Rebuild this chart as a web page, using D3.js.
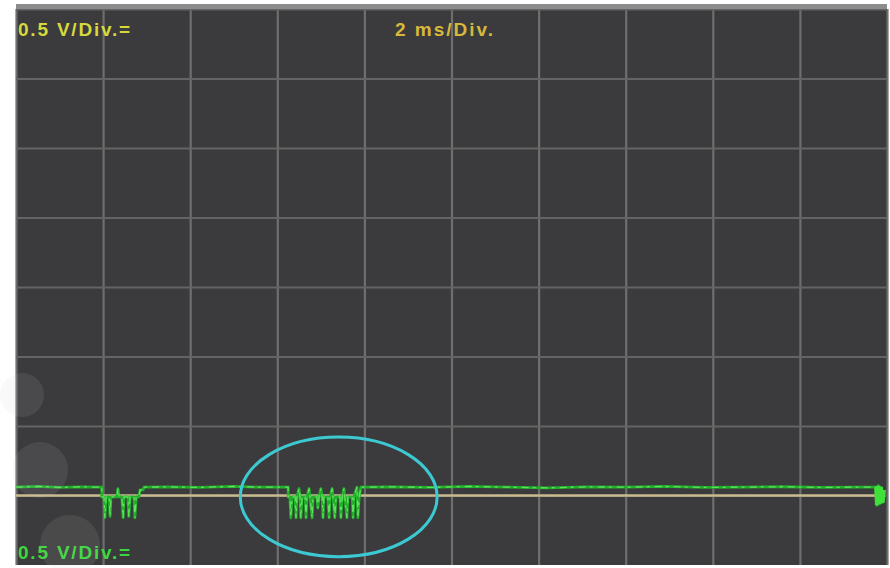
<!DOCTYPE html>
<html>
<head>
<meta charset="utf-8">
<script src="https://cdn.jsdelivr.net/npm/d3@7"></script>
<style>
  html, body { margin: 0; padding: 0; background: #ffffff; }
  svg { display: block; }
  text { font-family: "Liberation Sans", Arial, sans-serif; font-weight: bold; }
</style>
</head>
<body>
<svg id="chart" width="890" height="568"></svg>
<script>
// ---- data ----
const timeDomain = [0, 20];          // ms (10 div x 2 ms)
const voltDomain = [-0.5, 3.5];      // V (8 div x 0.5 V)
const timeGrid = [0, 2, 4, 6, 8, 10, 12, 14, 16, 18, 20];
const voltGrid = [0, 0.5, 1.0, 1.5, 2.0, 2.5, 3.0, 3.5];
const labelTopLeft = "0.5 V/Div.=";
const labelTimebase = "2 ms/Div.";
const labelBottomLeft = "0.5 V/Div.=";
const referenceLevel = 0;            // ground marker level (V)

// trace samples (ms, V)
const traceTime = [
  0, 0.5, 1.0, 1.5, 1.93, 1.97, 1.97, 2.02, 2.04, 2.07, 2.14, 2.16, 2.18, 2.32, 2.34, 2.37,
  2.43, 2.46, 2.48, 2.57, 2.59, 2.62, 2.71, 2.73, 2.76, 2.82, 2.85, 2.92, 2.94,
  3.5, 4.2, 5.0, 5.6, 6.25, 6.25, 6.29, 6.31, 6.34, 6.41, 6.43, 6.45, 6.50, 6.52, 6.54, 6.57,
  6.64, 6.66, 6.68, 6.73, 6.75, 6.80, 6.82, 6.91, 6.93, 6.96, 7.00, 7.03, 7.05, 7.07,
  7.16, 7.19, 7.21, 7.26, 7.28, 7.32, 7.35, 7.44, 7.46, 7.49, 7.53, 7.55, 7.60, 7.62,
  7.72, 7.74, 7.76, 7.83, 7.85, 7.88, 7.92, 7.94,
  8.6, 9.5, 10.4, 11.3, 12.2, 13.1, 14.0, 14.9, 15.8, 16.7, 17.6, 18.5, 19.3, 19.75,
  19.77, 19.80, 19.83, 19.86, 19.90, 19.93
];
const traceVolt = [
  0.06, 0.065, 0.058, 0.062, 0.06, 0.06, -0.01, -0.01, -0.16, -0.01, -0.01, -0.15, -0.01, -0.01, 0.05, -0.01,
  -0.01, -0.16, -0.01, -0.01, -0.15, -0.01, -0.01, -0.16, -0.01, -0.01, 0.04, 0.04, 0.06,
  0.062, 0.058, 0.065, 0.06, 0.06, -0.01, -0.01, -0.16, -0.01, -0.01, -0.16, -0.01, 0.05, -0.01, -0.16, -0.01,
  -0.01, -0.16, -0.01, 0.05, -0.01, -0.16, -0.01, -0.01, -0.09, -0.01, 0.05, -0.01, -0.16, -0.01,
  -0.01, -0.16, -0.01, 0.05, -0.01, -0.16, -0.01, -0.01, -0.16, -0.01, 0.05, -0.01, -0.16, -0.01,
  -0.01, -0.16, -0.01, 0.06, -0.16, -0.01, 0.06, 0.06,
  0.062, 0.058, 0.065, 0.06, 0.055, 0.062, 0.06, 0.065, 0.058, 0.06, 0.063, 0.058, 0.06, 0.06,
  -0.07, 0.07, -0.06, 0.06, -0.05, 0.04
];

// highlight ellipse (ms, V)
const highlightCenter = [7.41, -0.01];
const highlightRadius = [2.26, 0.43];

// ---- chart ----
const svg = d3.select("#chart");
const x = d3.scaleLinear().domain(timeDomain).range([16, 887]);
const y = d3.scaleLinear().domain(voltDomain).range([565, 9]);

// screen background
svg.append("rect")
  .attr("x", x(timeDomain[0])).attr("y", y(voltDomain[1]))
  .attr("width", x(timeDomain[1]) - x(timeDomain[0]))
  .attr("height", y(voltDomain[0]) - y(voltDomain[1]))
  .attr("fill", "#3b3b3d");

// grid via axes
const gridX = svg.append("g")
  .attr("transform", `translate(0,${y(voltDomain[0])})`)
  .call(d3.axisBottom(x).tickValues(timeGrid).tickFormat("")
    .tickSize(-(y(voltDomain[0]) - y(voltDomain[1]))).tickSizeOuter(0));
gridX.select(".domain").remove();
gridX.selectAll("line").attr("stroke", "#6e6e6e").attr("stroke-width", 2.2);

const gridY = svg.append("g")
  .attr("transform", `translate(${x(timeDomain[0])},0)`)
  .call(d3.axisLeft(y).tickValues(voltGrid).tickFormat("")
    .tickSize(-(x(timeDomain[1]) - x(timeDomain[0]))).tickSizeOuter(0));
gridY.select(".domain").remove();
gridY.selectAll("line").attr("stroke", "#646464").attr("stroke-width", 1.8);

// top frame line
svg.append("rect")
  .attr("x", x(timeDomain[0])).attr("y", y(voltDomain[1]) - 5)
  .attr("width", x(timeDomain[1]) - x(timeDomain[0])).attr("height", 5)
  .attr("fill", "#8c8c8c");

// ground reference line
svg.append("line")
  .attr("x1", x(timeDomain[0])).attr("x2", x(traceTime[traceTime.length - 1]))
  .attr("y1", y(referenceLevel)).attr("y2", y(referenceLevel))
  .attr("stroke", "#c9ba8e").attr("stroke-width", 2.6);

// trace
const pts = traceTime.map((t, i) => [t, traceVolt[i]]);
const line = d3.line().x(d => x(d[0])).y(d => y(d[1]));
svg.append("path").datum(pts).attr("d", line)
  .attr("fill", "none").attr("stroke", "#22b02c").attr("stroke-width", 2.8)
  .attr("stroke-linejoin", "round");
svg.append("path").datum(pts).attr("d", line)
  .attr("fill", "none").attr("stroke", "#5ee35a").attr("stroke-width", 1.3)
  .attr("stroke-dasharray", "7,4,3,5");

// end blob
const endPts = pts.slice(-7);
svg.append("path").datum(endPts).attr("d", line)
  .attr("fill", "none").attr("stroke", "#3fe03a").attr("stroke-width", 4);

// highlight ellipse
svg.append("ellipse")
  .attr("cx", x(highlightCenter[0])).attr("cy", y(highlightCenter[1]))
  .attr("rx", x(highlightCenter[0] + highlightRadius[0]) - x(highlightCenter[0]))
  .attr("ry", y(highlightCenter[1]) - y(highlightCenter[1] + highlightRadius[1]))
  .attr("fill", "none").attr("stroke", "#3cc9d2").attr("stroke-width", 3);

// labels
svg.append("text").attr("x", 18).attr("y", 36).text(labelTopLeft)
  .attr("font-size", 19).attr("letter-spacing", 1.8).attr("fill", "#d6d83c");
svg.append("text").attr("x", 395).attr("y", 36).text(labelTimebase)
  .attr("font-size", 19).attr("letter-spacing", 2).attr("fill", "#d8b83a");
svg.append("text").attr("x", 18).attr("y", 559).text(labelBottomLeft)
  .attr("font-size", 19).attr("letter-spacing", 1.8).attr("fill", "#3ad83c");

// faint watermark shapes at left
const wm = svg.append("g").attr("fill", "#cfcfcf").attr("opacity", 0.1);
wm.append("circle").attr("cx", 22).attr("cy", 395).attr("r", 22);
wm.append("circle").attr("cx", 40).attr("cy", 470).attr("r", 28);
wm.append("circle").attr("cx", 70).attr("cy", 545).attr("r", 30);
</script>
</body>
</html>
